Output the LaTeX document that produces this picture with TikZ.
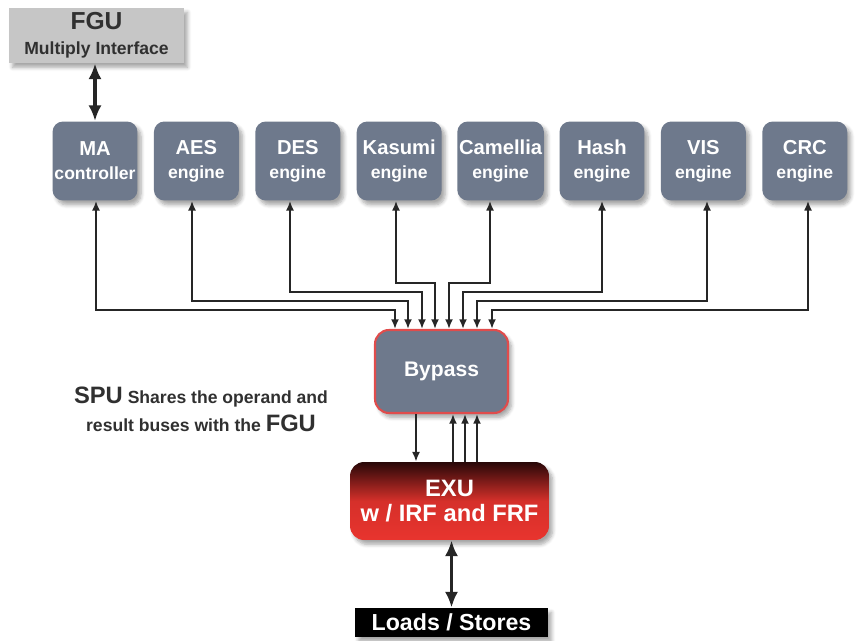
\documentclass[tikz,border=0pt]{standalone}
\usepackage{fontspec}
\setmainfont{Liberation Sans}
\usetikzlibrary{arrows.meta, shadows.blur}
\definecolor{schiefer}{RGB}{110,121,140}
\definecolor{randrot}{RGB}{224,76,76}
\definecolor{hellgrau}{RGB}{198,198,198}
\definecolor{textgrau}{RGB}{48,48,48}
\definecolor{dunkelrot}{RGB}{40,8,8}
\definecolor{hellrot}{RGB}{232,52,46}
\tikzset{
    schatten/.style={
        blur shadow={shadow xshift=2pt, shadow yshift=-2.5pt,
                     shadow opacity=35, shadow blur steps=6}
    },
    modul/.style={
        rectangle,
        rounded corners=6pt,
        fill=schiefer,         % Blaugraue Füllung der Rechenwerke
        text=white,
        font=\bfseries\fontsize{10}{13.5}\selectfont,
        align=center,
        inner sep=1pt,
        minimum width=1.7cm,
        minimum height=1.58cm,
        schatten
    },
    bus/.style={
        {Latex[length=5.5pt,width=4.5pt]}-{Latex[length=5.5pt,width=4.5pt]},
        line width=1pt,
        black!85
    },
    einweg/.style={
        -{Latex[length=5.5pt,width=4.5pt]},
        line width=1pt,
        black!85
    },
    dickpfeil/.style={
        {Latex[length=9pt,width=7.5pt]}-{Latex[length=9pt,width=7.5pt]},
        line width=1.9pt,
        black!85
    }
}

\begin{document}
\begin{tikzpicture}[x=0.02cm, y=-0.02cm]

    % Rahmen in Pixelmaßen der Vorlage
    \useasboundingbox (0,0) rectangle (859,641);

    % Schnittstelle oben links
    \node[fill=hellgrau, text=textgrau, align=center, inner sep=1pt,
          minimum width=3.5cm, minimum height=1.1cm, schatten,
          font=\bfseries\fontsize{10}{14}\selectfont]
        (fgu) at (96.5,35.5) {{\fontsize{14}{15}\selectfont FGU}\\Multiply Interface};

    % Bypass in der Mitte
    \node[modul, draw=randrot, line width=1.2pt, rounded corners=8pt,
          minimum width=2.66cm, minimum height=1.66cm,
          font=\bfseries\fontsize{12}{14}\selectfont]
        (bypass) at (441.5,371.5) {Bypass};

    % Ausführungseinheit mit Farbverlauf
    \node[rectangle, rounded corners=8pt, top color=dunkelrot, bottom color=hellrot,
          middle color=hellrot!92!black, text=white, align=center, inner sep=1pt,
          minimum width=3.98cm, minimum height=1.56cm, schatten,
          font=\bfseries\fontsize{13.5}{14.5}\selectfont]
        (exu) at (449.5,501) {EXU\\w / IRF and FRF};

    \node[fill=black, text=white, inner sep=1pt,
          minimum width=3.86cm, minimum height=0.58cm, schatten,
          font=\bfseries\fontsize{13.2}{15}\selectfont]
        (laden) at (451.5,622.5) {Loads / Stores};

    \node[text=textgrau, align=center, font=\bfseries\fontsize{10}{16}\selectfont]
        (spu) at (201,409) {{\fontsize{13.5}{16}\selectfont SPU} Shares the operand and\\result buses with the {\fontsize{13.5}{16}\selectfont FGU}};

    % Acht Rechenwerke mit Busleitungen zum Bypass
    % \xv = Abzweig, \yb = Höhe der Querleitung, \xd = Einmündung
    \foreach \name/\oben/\unten/\xv/\yb/\xd [count=\i from 0] in {
        ma/MA/controller/96/310/395,
        aes/AES/engine/192/301/408,
        des/DES/engine/290/292/422,
        kasumi/Kasumi/engine/396/283/435,
        camellia/Camellia/engine/490/283/449,
        hash/Hash/engine/602/292/463,
        vis/VIS/engine/707/301/477,
        crc/CRC/engine/808/310/492} {
        \node[modul] (\name) at ({95+\i*101.4},161)
            {{\fontsize{11.5}{12.5}\selectfont\oben}\\\unten};
        \draw[bus] (\name.south -| \xv,0) |- (\xd,\yb) -- (bypass.north -| \xd,0);
    }

    \draw[dickpfeil] (fgu.south -| ma.north) -- (ma.north);

    % Verbindungen Bypass <-> EXU
    \draw[einweg] (bypass.south -| 416,0) -- (exu.north -| 416,0);
    \foreach \xu in {453,465,477} {
        \draw[einweg] (exu.north -| \xu,0) -- (bypass.south -| \xu,0);
    }

    \draw[dickpfeil] (exu.south -| laden.north) -- (laden.north);

\end{tikzpicture}
\end{document}
